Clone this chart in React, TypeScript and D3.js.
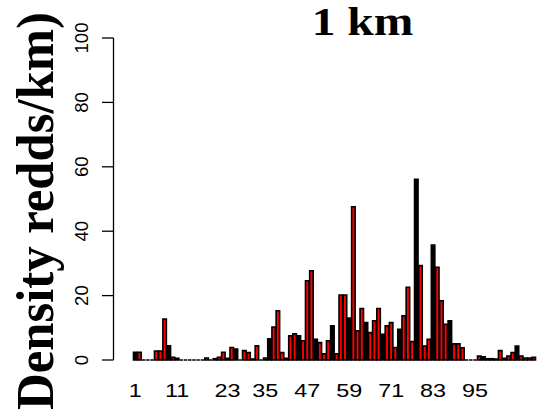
import React from "react";
import * as d3 from "d3";

// Density of redds per 1-km section
const density: number[] = [
  2.4, 2.4, 0, 0, 0, 2.8, 2.8, 12.7, 4.4, 0.8, 0.5,
  0, 0, 0, 0, 0, 0,
  0.6, 0, 0.4, 0.8,
  2.4, 0.5, 3.9, 3.4, 0, 2.9, 2.3, 0.3, 4.4, 0, 0.6,
  6.6, 10.2, 15.3, 2.3, 0.5, 7.5, 8.1, 7.5, 6.0,
  24.6, 27.7, 6.4, 5.4, 1.9, 6.0, 10.6, 1.9, 20.2, 20.2, 13,
  47.6, 9.1, 16.0, 11.6, 8.5, 12.2, 16.0, 8.0, 10.6, 11.6, 3.9, 9.5, 13.7, 22.6, 5.7,
  56.1, 29.3, 4.3, 6.4, 35.7, 28.8, 18.4, 11.1, 12.2, 5.0, 5.0, 3.8,
  0, 0, 0,
  1.2, 1.0, 0.4, 0.4, 0.3, 2.9, 0.5, 1.2, 2.3, 4.3, 1.2, 0.6, 0.6, 0.8,
];

// bars that render as solid black in the reference (1-based bar numbers)
const darkBars: number[] = [1, 9, 25, 33, 40, 44, 48, 52, 56, 60, 64, 68, 72, 76, 84, 92];

const yTicks: number[] = [0, 20, 40, 60, 80, 100];
const xTickLabels: string[] = ["1", "11", "23", "35", "47", "59", "71", "83", "95"];
const xTickBars: number[] = [1, 11, 23, 32, 42, 52, 62, 72, 82];

const title = "1 km";
const yTitle = "Density redds/km)";

export default function App() {
  const W = 545;
  const H = 417;
  const n = density.length;
  const x = d3.scaleLinear().domain([0, n]).range([133.15, 535.85]);
  const y = d3.scaleLinear().domain([0, 100]).range([360, 38]);
  const sp = 0.0833;
  const axisX = 113.5;

  return (
    <svg
      width={W}
      height={H}
      style={{ position: "absolute", left: 0, top: 0, background: "#fff" }}
    >
      <text
        x={311.7}
        y={35}
        fontFamily="'Liberation Serif', serif"
        fontWeight="bold"
        fontSize={39}
        textLength={101.6}
        lengthAdjust="spacingAndGlyphs"
      >
        {title}
      </text>
      <text
        transform={`translate(53,410) rotate(-90)`}
        fontFamily="'Liberation Serif', serif"
        fontWeight="bold"
        fontSize={52}
        textLength={398}
        lengthAdjust="spacingAndGlyphs"
      >
        {yTitle}
      </text>

      {/* y axis */}
      <line x1={axisX} x2={axisX} y1={y(0)} y2={y(100)} stroke="#000" strokeWidth={1.3} />
      {yTicks.map((t) => (
        <g key={t}>
          <line x1={axisX - 11.5} x2={axisX} y1={y(t)} y2={y(t)} stroke="#000" strokeWidth={1.3} />
          <text
            transform={`translate(88,${y(t)}) rotate(-90)`}
            textAnchor="middle"
            fontFamily="'Liberation Sans', Arial, sans-serif"
            fontSize={18.5}
          >
            {t}
          </text>
        </g>
      ))}

      {/* bars */}
      {density.map((v, i) => {
        const L = x(i + sp);
        const R = x(i + 1 - sp);
        const b = y(0);
        const t = y(v);
        const p = d3.path();
        p.moveTo(L, b);
        p.lineTo(L, t);
        p.lineTo(R, t);
        p.lineTo(R, b);
        p.closePath();
        const dark = darkBars.includes(i + 1);
        return (
          <path
            key={i}
            d={p.toString()}
            fill={dark ? "#000" : "#ff0000"}
            stroke="#000"
            strokeWidth={1.6}
          />
        );
      })}

      {/* x labels */}
      {xTickLabels.map((lab, k) => (
        <text
          key={lab}
          transform={`translate(${x(xTickBars[k] - 0.5)},397) scale(1.3,1)`}
          textAnchor="middle"
          fontFamily="'Liberation Sans', Arial, sans-serif"
          fontSize={18}
        >
          {lab}
        </text>
      ))}
    </svg>
  );
}
